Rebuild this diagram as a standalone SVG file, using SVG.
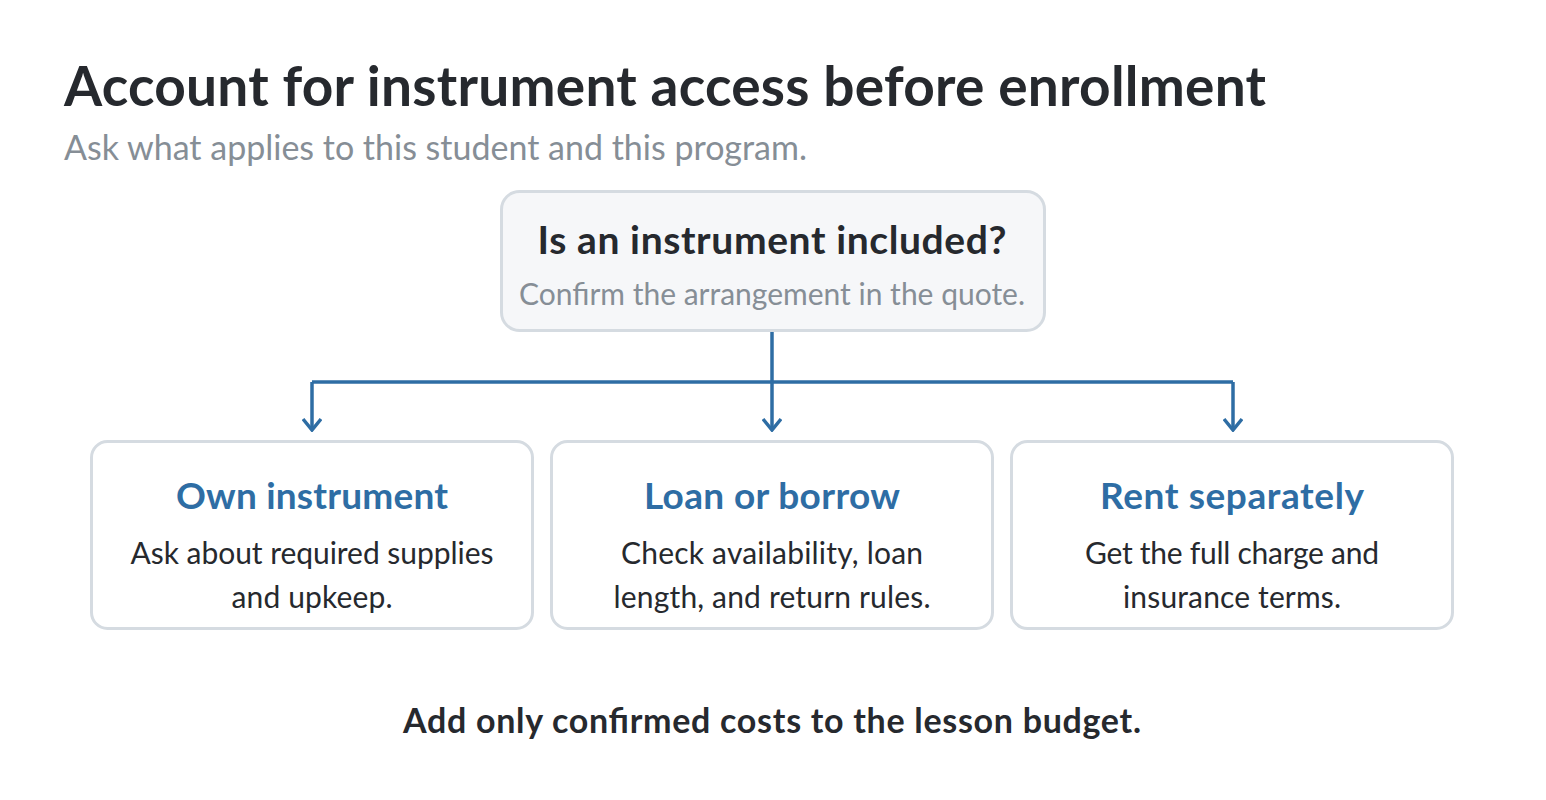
<svg xmlns="http://www.w3.org/2000/svg" width="1546" height="800" viewBox="0 0 1546 800">
<defs>
<style>
text{font-family:"Source Sans Pro","Lato","Liberation Sans",sans-serif}
.title{font-size:55px;font-weight:700;fill:#26292e}
.sub{font-size:34px;fill:#868e96}
.box{fill:#ffffff;stroke:#d5dbe1;stroke-width:3}
.qbox{fill:#f6f7f9;stroke:#d5dbe1;stroke-width:3}
.qt{font-size:39px;font-weight:700;fill:#26292e;text-anchor:middle}
.qs{font-size:30px;fill:#868e96;text-anchor:middle}
.bt{font-size:37px;font-weight:700;fill:#2e6da4;text-anchor:middle}
.bb{font-size:30px;fill:#26292e;text-anchor:middle}
.foot{font-size:34px;font-weight:700;fill:#26292e;text-anchor:middle}
.conn{fill:none;stroke:#2e6da4;stroke-width:3.5}
</style>
<marker id="arr" viewBox="0 0 20 20" refX="18" refY="10" markerWidth="20" markerHeight="20" markerUnits="userSpaceOnUse" orient="auto">
<path d="M7,1 L18,10 L7,19" fill="none" stroke="#2e6da4" stroke-width="3.5"/>
</marker>
</defs>
<rect width="1546" height="800" fill="#ffffff"/>
<g id="header">
<text class="title" x="64" y="106" textLength="1202">Account for instrument access before enrollment</text>
<text class="sub" x="64" y="160" textLength="743">Ask what applies to this student and this program.</text>
</g>
<g id="connectors">
<path class="conn" d="M772,331 V382"/>
<path class="conn" d="M312,382 H1233"/>
<path class="conn" d="M312,382 V430" marker-end="url(#arr)"/>
<path class="conn" d="M772,382 V430" marker-end="url(#arr)"/>
<path class="conn" d="M1233,382 V430" marker-end="url(#arr)"/>
</g>
<g id="question">
<rect class="qbox" x="501.5" y="191.5" width="543" height="139" rx="18"/>
<text class="qt" x="772" y="254" textLength="469">Is an instrument included?</text>
<text class="qs" x="772" y="305" textLength="506">Confirm the arrangement in the quote.</text>
</g>
<g id="own">
<rect class="box" x="91.5" y="441.5" width="441" height="187" rx="16"/>
<text class="bt" x="312" y="509" textLength="272">Own instrument</text>
<text class="bb" x="312" y="564" textLength="363">Ask about required supplies</text>
<text class="bb" x="312" y="608" textLength="161">and upkeep.</text>
</g>
<g id="loan">
<rect class="box" x="551.5" y="441.5" width="441" height="187" rx="16"/>
<text class="bt" x="772" y="509" textLength="256">Loan or borrow</text>
<text class="bb" x="772" y="564" textLength="302">Check availability, loan</text>
<text class="bb" x="772" y="608" textLength="317">length, and return rules.</text>
</g>
<g id="rent">
<rect class="box" x="1011.5" y="441.5" width="441" height="187" rx="16"/>
<text class="bt" x="1232" y="509" textLength="264">Rent separately</text>
<text class="bb" x="1232" y="564" textLength="294">Get the full charge and</text>
<text class="bb" x="1232" y="608" textLength="218">insurance terms.</text>
</g>
<g id="footer">
<text class="foot" x="772" y="733" textLength="738">Add only confirmed costs to the lesson budget.</text>
</g>
</svg>
